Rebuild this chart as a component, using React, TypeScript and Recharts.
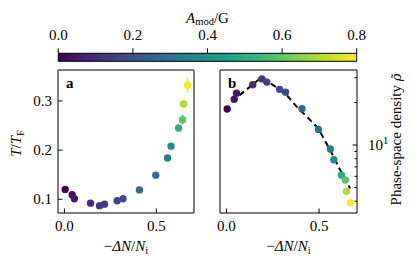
import {
    ComposedChart,
    BarChart,
    Bar,
    Scatter,
    Line,
    XAxis,
    YAxis,
    ErrorBar,
    ReferenceArea,
    Label,
} from "recharts"

const SERIF = "'Liberation Serif', 'Times New Roman', serif"
const FS = 15

// one entry per measurement, same order in both panels
const LOSS = [0.004, 0.042, 0.054, 0.142, 0.191, 0.218, 0.287, 0.319, 0.408, 0.497, 0.561, 0.580, 0.621, 0.642, 0.648, 0.670]
const T_OVER_TF = [0.120, 0.109, 0.101, 0.092, 0.087, 0.090, 0.097, 0.101, 0.119, 0.149, 0.184, 0.208, 0.245, 0.262, 0.294, 0.332]
const T_ERR = [0, 0, 0, 0, 0, 0, 0, 0, 0, 0, 0, 0, 0.004, 0.010, 0.008, 0.015]
const PSD = [18.0, 21.1, 23.3, 26.7, 29.4, 27.9, 24.8, 23.7, 18.1, 12.9, 9.37, 7.87, 6.12, 5.65, 4.70, 3.90]
const A_MOD = [0.0, 0.04, 0.05, 0.1, 0.13, 0.14, 0.17, 0.18, 0.27, 0.3, 0.34, 0.37, 0.5, 0.58, 0.7, 0.8]

// dashed model curve in panel b
const FIT_LOSS = [0.027, 0.1, 0.19, 0.252, 0.325, 0.379, 0.44, 0.496, 0.56, 0.614, 0.668]
const FIT_PSD = [20.3, 24.2, 30.2, 26.6, 22.6, 18.7, 15.6, 13.1, 9.22, 6.65, 4.93]

const X_TICKS = [0, 0.5]
const T_TICKS = [0.1, 0.2, 0.3]
const PSD_TICKS = [4, 5, 6, 7, 8, 9, 10, 20, 30]
const CBAR_TICKS = [0, 0.2, 0.4, 0.6, 0.8]
const CBAR_MAX = 0.8

const X_DOMAIN = [-0.035, 0.705]
const T_DOMAIN = [0.072, 0.363]
const PSD_DOMAIN = [3.3, 34]

const VIRIDIS = ["#440154", "#482878", "#3e4989", "#31688e", "#26828e", "#1f9e89", "#35b779", "#6ece58", "#b5de2b", "#fde725"]

function hex(c: string) {
    return [1, 3, 5].map((i) => parseInt(c.slice(i, i + 2), 16))
}

function viridis(t: number) {
    const s = Math.min(1, Math.max(0, t)) * (VIRIDIS.length - 1)
    const i = Math.min(Math.floor(s), VIRIDIS.length - 2)
    const f = s - i
    const a = hex(VIRIDIS[i])
    const b = hex(VIRIDIS[i + 1])
    const m = a.map((v, k) => Math.round(v + (b[k] - v) * f))
    return `rgb(${m[0]},${m[1]},${m[2]})`
}

const points = LOSS.map((x, i) => ({
    x,
    t: T_OVER_TF[i],
    err: T_ERR[i],
    psd: PSD[i],
    color: viridis(A_MOD[i] / CBAR_MAX),
}))

const fit = FIT_LOSS.map((x, i) => ({ x, psd: FIT_PSD[i] }))

const Dot = (props: any) => (
    <circle cx={props.cx} cy={props.cy} r={3.7} fill={props.payload.color} />
)

const BottomTick = (props: any) => {
    const { x, y, payload } = props
    return (
        <g>
            <line x1={x} x2={x} y1={y} y2={y - 4.5} stroke="#000" />
            <text x={x} y={y + 17.5} textAnchor="middle" fontSize={FS} fontFamily={SERIF} fill="#000">
                {payload.value.toFixed(1)}
            </text>
        </g>
    )
}

const LeftTick = (props: any) => {
    const { x, y, payload } = props
    return (
        <g>
            <line x1={x} x2={x + 4.5} y1={y} y2={y} stroke="#000" />
            <text x={x - 6} y={y} dy="0.35em" textAnchor="end" fontSize={FS} fontFamily={SERIF} fill="#000">
                {payload.value.toFixed(1)}
            </text>
        </g>
    )
}

const PsdTick = (props: any) => {
    const { x, y, payload } = props
    const major = payload.value === 10
    return (
        <g>
            <line x1={x} x2={x - (major ? 4.5 : 2.5)} y1={y} y2={y} stroke="#000" />
            {major && (
                <text x={x + 11} y={y} dy="0.35em" fontSize={FS} fontFamily={SERIF} fill="#000">
                    10<tspan dy={-6} fontSize={10.5}>1</tspan>
                </text>
            )}
        </g>
    )
}

const CbarTick = (props: any) => {
    const { x, y, payload } = props
    return (
        <g>
            <line x1={x} x2={x} y1={y} y2={y - 5} stroke="#000" />
            <text x={x} y={y - 13} textAnchor="middle" fontSize={FS} fontFamily={SERIF} fill="#000">
                {payload.value.toFixed(1)}
            </text>
        </g>
    )
}

const lossLabel = (props: any) => {
    const vb = props.viewBox
    return (
        <text x={vb.x + vb.width / 2} y={vb.y + 38} textAnchor="middle" fontSize={FS} fontFamily={SERIF} fill="#000">
            −<tspan fontStyle="italic">ΔN</tspan>/<tspan fontStyle="italic">N</tspan>
            <tspan fontSize={10.5} dy={3}>i</tspan>
        </text>
    )
}

const panelLetter = (letter: string) => (props: any) => {
    const vb = props.viewBox
    return (
        <text x={vb.x + 8} y={vb.y + 18} fontSize={FS} fontWeight="bold" fontFamily={SERIF} fill="#000">
            {letter}
        </text>
    )
}

export default function App() {
    return (
        <div style={{ position: "absolute", left: 0, top: 0, width: 415, height: 266, background: "#fff" }}>
            <div style={{ position: "absolute", left: 0, top: 0 }}>
                <BarChart
                    width={415}
                    height={66}
                    layout="vertical"
                    data={[{ name: "A", value: CBAR_MAX }]}
                    margin={{ top: 23.3, right: 58.3, bottom: 4.3, left: 58.3 }}
                    barCategoryGap={0}
                >
                    <defs>
                        <linearGradient id="viridisGrad" x1="0" x2="1" y1="0" y2="0">
                            {VIRIDIS.map((c, i) => (
                                <stop key={i} offset={i / (VIRIDIS.length - 1)} stopColor={c} />
                            ))}
                        </linearGradient>
                    </defs>
                    <XAxis
                        type="number"
                        orientation="top"
                        domain={[0, CBAR_MAX]}
                        ticks={CBAR_TICKS}
                        interval={0}
                        height={30}
                        axisLine={false}
                        tickLine={false}
                        tickSize={0}
                        tickMargin={0}
                        tick={CbarTick}
                    >
                        <Label
                            content={(props: any) => {
                                const vb = props.viewBox
                                return (
                                    <text x={vb.x + vb.width / 2} y={vb.y - 0.5} textAnchor="middle" fontSize={FS} fontFamily={SERIF} fill="#000">
                                        <tspan fontStyle="italic">A</tspan>
                                        <tspan fontSize={10.5} dy={2.5}>mod</tspan>
                                        <tspan dy={-2.5}>/G</tspan>
                                    </text>
                                )
                            }}
                        />
                    </XAxis>
                    <YAxis type="category" dataKey="name" hide />
                    <Bar dataKey="value" fill="url(#viridisGrad)" stroke="#000" strokeWidth={1} isAnimationActive={false} />
                </BarChart>
            </div>

            <div style={{ position: "absolute", left: 0, top: 0 }}>
                <ComposedChart width={205} height={266} margin={{ top: 70, right: 11, bottom: 23, left: 18 }}>
                    <XAxis
                        type="number"
                        dataKey="x"
                        domain={X_DOMAIN}
                        ticks={X_TICKS}
                        interval={0}
                        allowDataOverflow
                        height={30}
                        axisLine={false}
                        tickLine={false}
                        tickSize={0}
                        tickMargin={0}
                        tick={BottomTick}
                    >
                        <Label content={lossLabel} />
                    </XAxis>
                    <YAxis
                        type="number"
                        dataKey="t"
                        domain={T_DOMAIN}
                        ticks={T_TICKS}
                        interval={0}
                        allowDataOverflow
                        width={40}
                        axisLine={false}
                        tickLine={false}
                        tickSize={0}
                        tickMargin={0}
                        tick={LeftTick}
                    >
                        <Label
                            content={(props: any) => {
                                const vb = props.viewBox
                                const cx = vb.x + vb.width - 37
                                const cy = vb.y + vb.height / 2 + 2
                                return (
                                    <text x={cx} y={cy} transform={`rotate(-90 ${cx} ${cy})`} textAnchor="middle" fontSize={FS} fontFamily={SERIF} fill="#000">
                                        <tspan fontStyle="italic">T</tspan>/<tspan fontStyle="italic">T</tspan>
                                        <tspan fontSize={10.5} dy={3}>F</tspan>
                                    </text>
                                )
                            }}
                        />
                    </YAxis>
                    <ReferenceArea
                        x1={X_DOMAIN[0]}
                        x2={X_DOMAIN[1]}
                        y1={T_DOMAIN[0]}
                        y2={T_DOMAIN[1]}
                        fill="none"
                        stroke="#000"
                        strokeWidth={1}
                        fillOpacity={0}
                        ifOverflow="visible"
                        label={panelLetter("a")}
                    />
                    {points.map((p, i) => (
                        <Scatter key={i} data={[p]} fill={p.color} shape={Dot} isAnimationActive={false}>
                            {p.err > 0 && (
                                <ErrorBar dataKey="err" direction="y" width={0} stroke={p.color} strokeWidth={1.6} />
                            )}
                        </Scatter>
                    ))}
                </ComposedChart>
            </div>

            <div style={{ position: "absolute", left: 205, top: 0 }}>
                <ComposedChart width={210} height={266} margin={{ top: 70, right: 0, bottom: 23, left: 15 }}>
                    <XAxis
                        type="number"
                        dataKey="x"
                        domain={X_DOMAIN}
                        ticks={X_TICKS}
                        interval={0}
                        allowDataOverflow
                        height={30}
                        axisLine={false}
                        tickLine={false}
                        tickSize={0}
                        tickMargin={0}
                        tick={BottomTick}
                    >
                        <Label content={lossLabel} />
                    </XAxis>
                    <YAxis
                        type="number"
                        dataKey="psd"
                        orientation="right"
                        scale="log"
                        domain={PSD_DOMAIN}
                        ticks={PSD_TICKS}
                        interval={0}
                        allowDataOverflow
                        width={58}
                        axisLine={false}
                        tickLine={false}
                        tickSize={0}
                        tickMargin={0}
                        tick={PsdTick}
                    >
                        <Label
                            content={(props: any) => {
                                const vb = props.viewBox
                                const cx = vb.x + 44
                                const cy = vb.y + vb.height / 2 - 2
                                return (
                                    <text x={cx} y={cy} transform={`rotate(-90 ${cx} ${cy})`} textAnchor="middle" fontSize={FS} fontFamily={SERIF} fill="#000">
                                        Phase-space density{" "}
                                        <tspan fontStyle="italic" fontFamily="'DejaVu Serif', serif" fontSize={13}>ρ̃</tspan>
                                    </text>
                                )
                            }}
                        />
                    </YAxis>
                    <ReferenceArea
                        x1={X_DOMAIN[0]}
                        x2={X_DOMAIN[1]}
                        y1={PSD_DOMAIN[0]}
                        y2={PSD_DOMAIN[1]}
                        fill="none"
                        stroke="#000"
                        strokeWidth={1}
                        fillOpacity={0}
                        ifOverflow="visible"
                        label={panelLetter("b")}
                    />
                    {points.map((p, i) => (
                        <Scatter key={i} data={[p]} fill={p.color} shape={Dot} isAnimationActive={false} />
                    ))}
                    <Line
                        data={fit}
                        dataKey="psd"
                        type="linear"
                        stroke="#000"
                        strokeWidth={2}
                        strokeDasharray="6 4"
                        dot={false}
                        isAnimationActive={false}
                    />
                </ComposedChart>
            </div>
        </div>
    )
}
